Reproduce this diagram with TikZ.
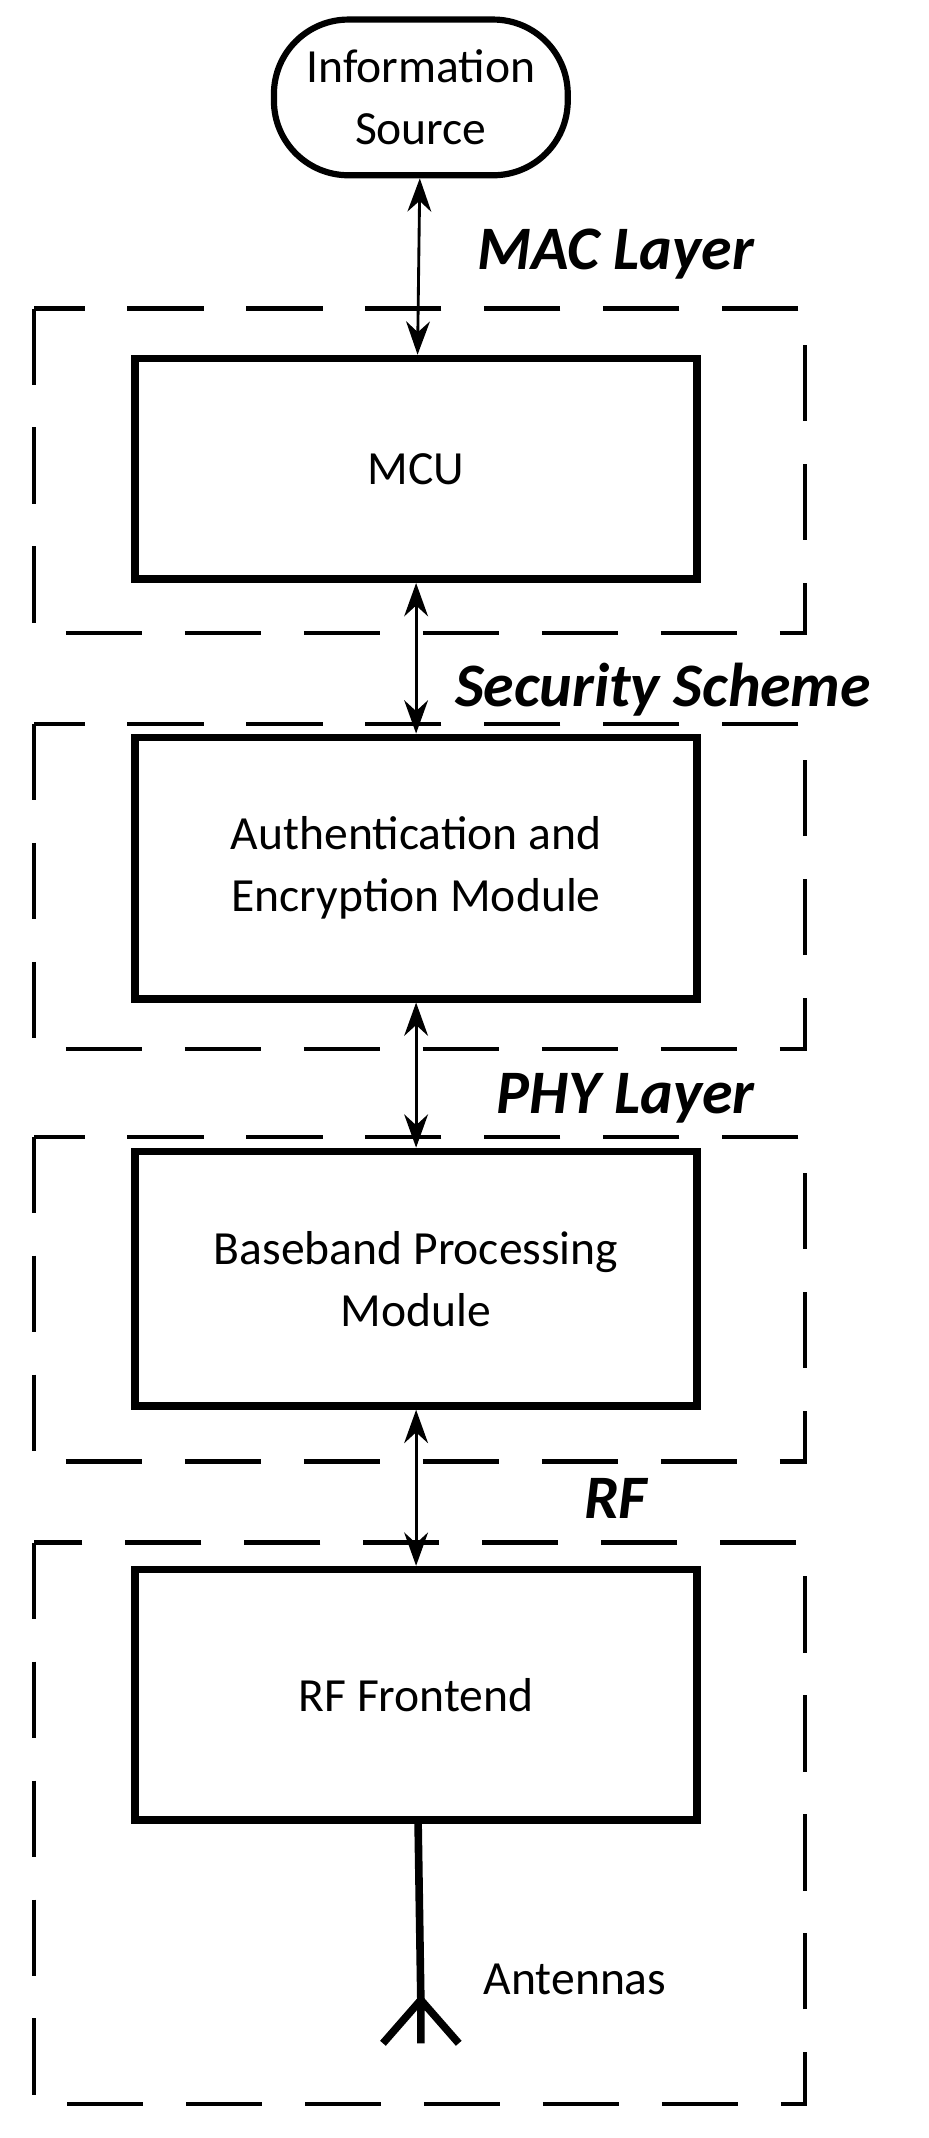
\documentclass[tikz,border=0pt]{standalone}
\usepackage{fontspec}
\setmainfont{Carlito}
\usetikzlibrary{arrows.meta,positioning}
\begin{document}
\begin{tikzpicture}[x=0.01cm,y=-0.01cm,
		block/.style={draw,line width=1.6pt,minimum width=4.15cm,align=center,font=\fontsize{10}{13}\selectfont},
		layer/.style={draw,line width=0.9pt,dash pattern=on 16pt off 9pt},
		ltitle/.style={font=\fontsize{13}{15}\selectfont\bfseries\itshape},
		link/.style={{Stealth[length=7pt,width=5pt]}-{Stealth[length=7pt,width=5pt]},line width=0.6pt}]
		\useasboundingbox (0,0) rectangle (686,1580);

		\node[draw,line width=1.3pt,rounded corners=0.55cm,minimum width=2.17cm,minimum height=1.15cm,align=center,font=\fontsize{10}{13}\selectfont] (src) at (311,72) {Information\\Source};

		\draw[layer] (25,228) rectangle (595,468);
		\node[ltitle] at (455,188) {MAC Layer};
		\node[block,minimum height=1.63cm] (mcu) at (307.5,346.5) {MCU};

		\draw[layer] (25,535) rectangle (595,775);
		\node[ltitle] at (490,510) {Security Scheme};
		\node[block,minimum height=1.93cm] (auth) at (307.5,641.5) {Authentication and\\Encryption Module};

		\draw[layer] (25,840) rectangle (595,1080);
		\node[ltitle] at (462,812) {PHY Layer};
		\node[block,minimum height=1.88cm] (bb) at (307.5,945) {Baseband Processing\\Module};

		\draw[layer] (25,1140) rectangle (595,1555);
		\node[ltitle] at (455,1107) {RF};
		\node[block,minimum height=1.85cm] (rf) at (307.5,1252.5) {RF Frontend};

		\draw[link] (src) -- (mcu);
		\draw[link] (mcu) -- (auth);
		\draw[link] (auth) -- (bb);
		\draw[link] (bb) -- (rf);

		% antenna
		\coordinate (ant) at (311,1478);
		\draw[line width=1.6pt] (rf) -- (ant);
		\draw[line width=1.6pt] (ant) -- ++(0,32) (ant) -- ++(-28,32) (ant) -- ++(28,32);
		\node[font=\fontsize{10}{13}\selectfont] (antl) at (425,1463) {Antennas};
	\end{tikzpicture}
\end{document}
